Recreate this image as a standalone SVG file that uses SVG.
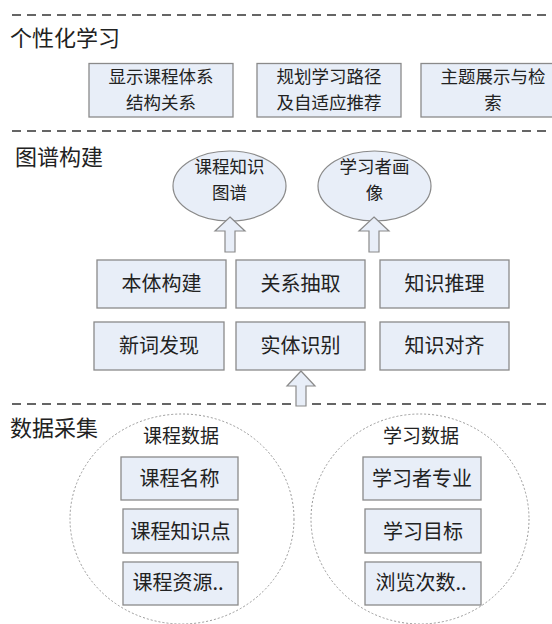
<svg xmlns="http://www.w3.org/2000/svg" width="552" height="624" viewBox="0 0 552 624">
<style>
  .sep { stroke: #333; stroke-width: 1.3; stroke-dasharray: 9 6; fill: none; }
  .box { fill: #e8eef8; stroke: #8a8a8a; stroke-width: 1.3; }
  .ell { fill: #e8eef8; stroke: #8a8a8a; stroke-width: 1.2; }
  .arr { fill: #e8eef8; stroke: #8a8a8a; stroke-width: 1.2; stroke-linejoin: miter; }
  .grp { fill: none; stroke: #999; stroke-width: 1; stroke-dasharray: 2 2; }
  text { font-family: "Noto Sans CJK SC", "Noto Sans", sans-serif; fill: #222; }
  .t { font-size: 20px; text-anchor: middle; }
  .t2 { font-size: 17.5px; text-anchor: middle; }
  .h { font-size: 22px; }
</style>
<rect width="552" height="624" fill="#fff"/>

<g id="separators">
  <line class="sep" x1="12" y1="15" x2="552" y2="15"/>
  <line class="sep" x1="12" y1="131" x2="552" y2="131"/>
  <line class="sep" x1="12" y1="404" x2="552" y2="404"/>
</g>

<g id="section-labels">
  <text class="h" x="10" y="46">个性化学习</text>
  <text class="h" x="15" y="165">图谱构建</text>
  <text class="h" x="10" y="436">数据采集</text>
</g>

<!-- Personalized learning -->
<g id="node-show-structure">
  <rect class="box" x="89" y="63.5" width="144" height="53.5"/>
  <text class="t2" x="161" y="83">显示课程体系</text>
  <text class="t2" x="161" y="109">结构关系</text>
</g>
<g id="node-plan-path">
  <rect class="box" x="257" y="63.5" width="144" height="53.5"/>
  <text class="t2" x="329" y="83">规划学习路径</text>
  <text class="t2" x="329" y="109">及自适应推荐</text>
</g>
<g id="node-topic-search">
  <rect class="box" x="421" y="63.5" width="144" height="53.5"/>
  <text class="t2" x="493" y="83">主题展示与检</text>
  <text class="t2" x="493" y="109">索</text>
</g>

<!-- Graph construction -->
<g id="node-course-kg">
  <ellipse class="ell" cx="229.5" cy="186" rx="56.5" ry="35"/>
  <text class="t2" x="229.5" y="173">课程知识</text>
  <text class="t2" x="229.5" y="199">图谱</text>
</g>
<g id="node-learner-profile">
  <ellipse class="ell" cx="374.5" cy="186" rx="56.5" ry="35"/>
  <text class="t2" x="374.5" y="173">学习者画</text>
  <text class="t2" x="374.5" y="199">像</text>
</g>

<g id="node-ontology">
  <rect class="box" x="97" y="260" width="129" height="48"/>
  <text class="t" x="161.5" y="291">本体构建</text>
</g>
<g id="node-relation">
  <rect class="box" x="236" y="260" width="129" height="48"/>
  <text class="t" x="300.5" y="291">关系抽取</text>
</g>
<g id="node-reasoning">
  <rect class="box" x="380" y="260" width="129" height="48"/>
  <text class="t" x="444.5" y="291">知识推理</text>
</g>
<g id="node-newword">
  <rect class="box" x="94" y="322" width="130" height="48"/>
  <text class="t" x="159" y="353">新词发现</text>
</g>
<g id="node-entity">
  <rect class="box" x="236" y="322" width="129" height="48"/>
  <text class="t" x="300.5" y="353">实体识别</text>
</g>
<g id="node-alignment">
  <rect class="box" x="380" y="322" width="129" height="48"/>
  <text class="t" x="444.5" y="353">知识对齐</text>
</g>

<!-- Data collection -->
<g id="node-course-data">
  <ellipse class="grp" cx="182" cy="519" rx="112" ry="105"/>
  <text class="t" x="181" y="443" style="font-size:19px">课程数据</text>
  <rect class="box" x="121" y="457" width="117" height="43"/>
  <text class="t" x="179.5" y="486">课程名称</text>
  <rect class="box" x="123" y="509" width="115" height="44"/>
  <text class="t" x="180.5" y="539">课程知识点</text>
  <rect class="box" x="123" y="562" width="115" height="43"/>
  <text class="t" x="178" y="590">课程资源..</text>
</g>
<g id="node-learning-data">
  <ellipse class="grp" cx="420" cy="519" rx="109" ry="105"/>
  <text class="t" x="421" y="443" style="font-size:19px">学习数据</text>
  <rect class="box" x="363" y="457" width="118" height="43"/>
  <text class="t" x="422" y="486">学习者专业</text>
  <rect class="box" x="365" y="509" width="116" height="44"/>
  <text class="t" x="423" y="539">学习目标</text>
  <rect class="box" x="365" y="562" width="116" height="43"/>
  <text class="t" x="421" y="590">浏览次数..</text>
</g>

<g id="connectors">
  <polygon class="arr" points="230,217 245,231 235,231 235,252 225,252 225,231 215,231"/>
  <polygon class="arr" points="374,217 389,231 379,231 379,252 369,252 369,231 359,231"/>
  <polygon class="arr" points="301,371 315,386 306,386 306,406 296,406 296,386 287,386"/>
</g>
</svg>
